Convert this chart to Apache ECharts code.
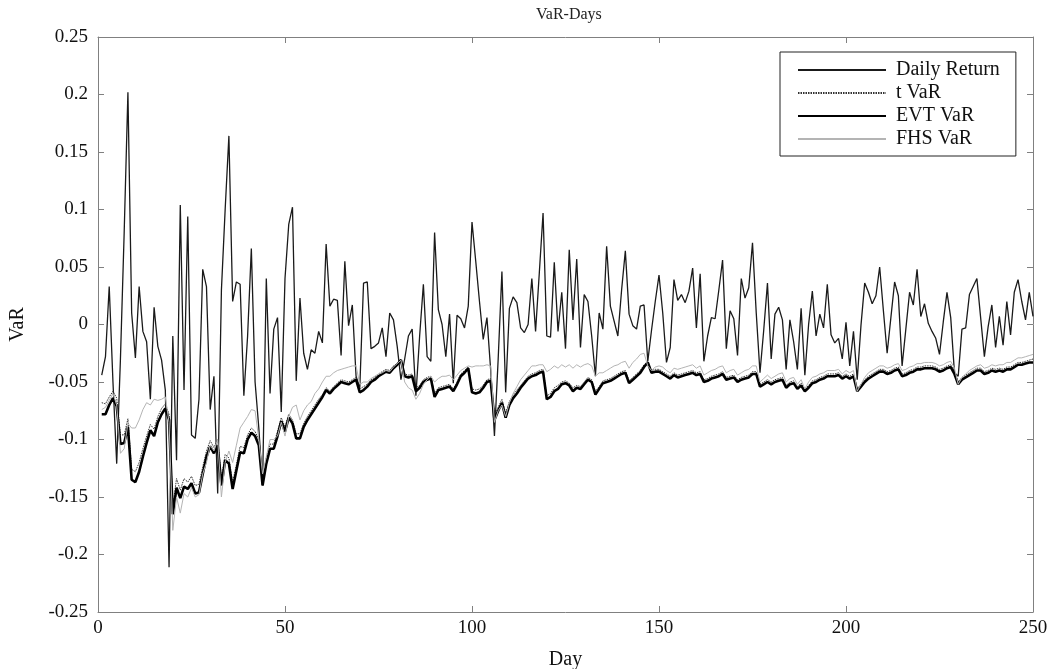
<!DOCTYPE html>
<html>
<head>
<meta charset="utf-8">
<script src="https://cdn.jsdelivr.net/npm/echarts@6/dist/echarts.min.js"></script>
<style>
    html, body { margin: 0; padding: 0; background: #fff; }
    #chart { width: 1051px; height: 669px; }
</style>
</head>
<body>
<div id="chart"></div>
<script>
// Daily return, day 1..250
const dailyReturn = [
    -0.044, -0.028, 0.033, -0.05, -0.121, -0.03, 0.08, 0.202, 0.01, -0.029,
    0.033, -0.006, -0.015, -0.065, 0.015, -0.019, -0.031, -0.057, -0.211, -0.01,
    -0.118, 0.104, -0.057, 0.094, -0.096, -0.099, -0.065, 0.048, 0.033, -0.074,
    -0.045, -0.147, 0.03, 0.1, 0.164, 0.02, 0.037, 0.035, -0.062, -0.01,
    0.066, -0.05, -0.09, -0.14, 0.04, -0.06, -0.004, 0.006, -0.076, 0.04,
    0.087, 0.102, -0.049, 0.023, -0.025, -0.039, -0.022, -0.025, -0.006, -0.016,
    0.07, 0.016, 0.022, 0.021, -0.027, 0.055, -0.001, 0.017, -0.045, -0.055,
    0.036, 0.037, -0.021, -0.019, -0.016, -0.003, -0.028, 0.01, 0.004, -0.019,
    -0.048, -0.03, -0.01, -0.004, -0.062, -0.01, 0.035, -0.028, -0.032, 0.08,
    0.013, 0.0, -0.028, 0.009, -0.051, 0.008, 0.005, -0.003, 0.016, 0.089,
    0.055, 0.02, -0.013, 0.006, -0.04, -0.097, -0.03, 0.046, -0.059, 0.014,
    0.024, 0.019, -0.003, -0.007, 0.0, 0.04, -0.006, 0.045, 0.097, -0.01,
    -0.011, 0.054, -0.006, 0.028, -0.021, 0.065, 0.004, 0.057, -0.02, 0.026,
    0.02, -0.01, -0.045, 0.01, -0.004, 0.068, 0.016, 0.003, -0.01, 0.03,
    0.064, 0.009, -0.001, -0.004, 0.016, 0.017, -0.032, -0.005, 0.02, 0.043,
    0.01, -0.033, -0.02, 0.039, 0.021, 0.026, 0.019, 0.029, 0.049, -0.003,
    0.044, -0.032, -0.01, 0.006, 0.005, 0.03, 0.056, -0.021, 0.012, 0.005,
    -0.027, 0.04, 0.023, 0.032, 0.071, 0.01, -0.042, -0.005, 0.036, -0.03,
    0.009, 0.015, 0.004, -0.039, 0.004, -0.015, -0.039, 0.014, -0.044, 0.0,
    0.029, -0.01, 0.009, -0.003, 0.035, -0.009, -0.016, -0.012, -0.03, 0.002,
    -0.036, -0.006, -0.048, -0.001, 0.036, 0.028, 0.018, 0.025, 0.05, 0.012,
    -0.025, 0.006, 0.037, 0.025, -0.036, -0.004, 0.028, 0.017, 0.048, 0.007,
    0.018, 0.001, -0.006, -0.012, -0.026, 0.002, 0.028, 0.006, -0.042, -0.045,
    -0.004, -0.003, 0.026, 0.033, 0.04, 0.006, -0.028, -0.002, 0.017, -0.02,
    0.007, -0.018, 0.02, -0.009, 0.028, 0.039, 0.02, 0.004, 0.028, 0.007
];

const tVaR = [
    -0.068, -0.069, -0.063, -0.058, -0.064, -0.096, -0.096, -0.082, -0.126, -0.128,
    -0.12, -0.108, -0.097, -0.087, -0.091, -0.08, -0.073, -0.069, -0.078, -0.158,
    -0.134, -0.144, -0.134, -0.137, -0.132, -0.14, -0.139, -0.124, -0.11, -0.101,
    -0.107, -0.1, -0.134, -0.113, -0.116, -0.137, -0.122, -0.106, -0.107, -0.096,
    -0.09, -0.093, -0.1, -0.135, -0.116, -0.104, -0.104, -0.093, -0.081, -0.089,
    -0.078, -0.083, -0.095, -0.095, -0.086, -0.08, -0.075, -0.07, -0.065, -0.061,
    -0.055, -0.058, -0.054, -0.051, -0.048, -0.049, -0.05, -0.048, -0.046, -0.056,
    -0.054, -0.052, -0.048, -0.046, -0.043, -0.041, -0.039, -0.04, -0.036, -0.034,
    -0.03, -0.043, -0.044, -0.043, -0.055, -0.053, -0.048, -0.046, -0.045, -0.06,
    -0.055, -0.054, -0.053, -0.052, -0.056, -0.05, -0.043, -0.04, -0.037, -0.056,
    -0.057, -0.056, -0.053, -0.048, -0.047, -0.079, -0.072, -0.065, -0.077, -0.067,
    -0.061, -0.057, -0.053, -0.049, -0.045, -0.043, -0.042, -0.04, -0.039, -0.062,
    -0.06, -0.055, -0.053, -0.05, -0.049, -0.051, -0.055, -0.053, -0.054, -0.05,
    -0.046, -0.048, -0.058, -0.054, -0.049, -0.048, -0.047, -0.045, -0.043, -0.041,
    -0.04, -0.049, -0.046, -0.043, -0.04, -0.035, -0.032, -0.04, -0.039, -0.039,
    -0.041, -0.043, -0.045, -0.042, -0.044, -0.043, -0.042, -0.041, -0.04, -0.042,
    -0.041, -0.048, -0.047, -0.045, -0.044, -0.043, -0.041, -0.046, -0.045, -0.044,
    -0.048, -0.046, -0.045, -0.044, -0.041, -0.041, -0.052, -0.05, -0.048, -0.05,
    -0.048, -0.047, -0.046, -0.053, -0.05, -0.049, -0.054, -0.051, -0.056, -0.053,
    -0.049, -0.048, -0.046, -0.045, -0.043, -0.043, -0.043, -0.042, -0.045, -0.043,
    -0.045, -0.043, -0.056, -0.052, -0.048, -0.045, -0.043, -0.041, -0.039, -0.039,
    -0.041, -0.04, -0.038, -0.037, -0.043, -0.042, -0.04, -0.039, -0.037, -0.037,
    -0.036, -0.036, -0.036, -0.037, -0.039, -0.038, -0.036, -0.035, -0.041, -0.05,
    -0.046, -0.044, -0.042, -0.04, -0.038, -0.038, -0.041, -0.04, -0.038, -0.039,
    -0.038, -0.039, -0.037, -0.037, -0.035, -0.033, -0.033, -0.032, -0.031, -0.03
];

const evtVaR = [
    -0.078, -0.078, -0.07, -0.064, -0.071, -0.104, -0.103, -0.089, -0.135, -0.137,
    -0.128, -0.115, -0.103, -0.092, -0.097, -0.085, -0.078, -0.073, -0.083, -0.165,
    -0.142, -0.151, -0.141, -0.143, -0.138, -0.147, -0.146, -0.13, -0.115, -0.106,
    -0.112, -0.105, -0.14, -0.118, -0.121, -0.143, -0.127, -0.111, -0.112, -0.1,
    -0.094, -0.097, -0.105, -0.14, -0.121, -0.108, -0.108, -0.097, -0.084, -0.093,
    -0.081, -0.086, -0.099, -0.099, -0.089, -0.083, -0.078, -0.073, -0.068, -0.063,
    -0.057, -0.06, -0.056, -0.053, -0.05, -0.051, -0.052, -0.05, -0.048, -0.059,
    -0.057, -0.054, -0.05, -0.048, -0.045, -0.043, -0.041, -0.042, -0.038, -0.035,
    -0.031, -0.045, -0.046, -0.045, -0.058, -0.055, -0.05, -0.048, -0.047, -0.063,
    -0.057, -0.056, -0.055, -0.054, -0.058, -0.052, -0.045, -0.042, -0.038, -0.059,
    -0.06, -0.059, -0.055, -0.05, -0.049, -0.083, -0.075, -0.068, -0.081, -0.07,
    -0.064, -0.06, -0.055, -0.051, -0.047, -0.045, -0.044, -0.042, -0.041, -0.065,
    -0.063, -0.058, -0.056, -0.052, -0.051, -0.053, -0.058, -0.055, -0.056, -0.052,
    -0.048, -0.05, -0.061, -0.056, -0.051, -0.05, -0.049, -0.047, -0.045, -0.043,
    -0.042, -0.051, -0.048, -0.045, -0.042, -0.037, -0.033, -0.042, -0.041, -0.041,
    -0.043, -0.045, -0.047, -0.044, -0.046, -0.045, -0.044, -0.043, -0.042, -0.044,
    -0.043, -0.05, -0.049, -0.047, -0.046, -0.045, -0.043, -0.048, -0.047, -0.046,
    -0.05, -0.048, -0.047, -0.046, -0.043, -0.043, -0.054, -0.052, -0.05, -0.052,
    -0.05, -0.049, -0.048, -0.055, -0.052, -0.051, -0.056, -0.053, -0.058, -0.055,
    -0.051, -0.05, -0.048, -0.047, -0.045, -0.045, -0.045, -0.044, -0.047, -0.045,
    -0.047, -0.045, -0.058, -0.054, -0.05, -0.047, -0.045, -0.043, -0.041, -0.041,
    -0.043, -0.042, -0.04, -0.039, -0.045, -0.044, -0.042, -0.041, -0.039, -0.039,
    -0.038, -0.038, -0.038, -0.039, -0.041, -0.04, -0.038, -0.037, -0.043, -0.052,
    -0.048, -0.046, -0.044, -0.042, -0.04, -0.04, -0.043, -0.042, -0.04, -0.041,
    -0.04, -0.041, -0.039, -0.039, -0.037, -0.035, -0.035, -0.034, -0.033, -0.033
];

const fhsVaR = [
    -0.074, -0.072, -0.066, -0.06, -0.07, -0.112, -0.108, -0.086, -0.09, -0.09,
    -0.083, -0.074, -0.068, -0.07, -0.065, -0.066, -0.065, -0.063, -0.085, -0.179,
    -0.15, -0.164, -0.147, -0.15, -0.142, -0.15, -0.148, -0.13, -0.12, -0.105,
    -0.11, -0.1, -0.15, -0.12, -0.11, -0.12, -0.105, -0.09, -0.085, -0.08,
    -0.074, -0.075, -0.1, -0.13, -0.115, -0.1, -0.1, -0.097, -0.085, -0.097,
    -0.08, -0.072, -0.07, -0.083, -0.075, -0.07, -0.067, -0.06, -0.056, -0.05,
    -0.045, -0.045, -0.042, -0.04, -0.039, -0.038, -0.037, -0.036, -0.036, -0.052,
    -0.05, -0.05, -0.047, -0.045, -0.043, -0.042, -0.04, -0.041, -0.037, -0.034,
    -0.031, -0.05, -0.055, -0.057, -0.065, -0.06, -0.052, -0.048, -0.045, -0.05,
    -0.047, -0.045, -0.045, -0.044, -0.048, -0.044, -0.04, -0.038, -0.036, -0.037,
    -0.036, -0.036, -0.036, -0.035, -0.036, -0.085, -0.075, -0.07, -0.08, -0.068,
    -0.06, -0.054, -0.048, -0.044, -0.04, -0.036, -0.036, -0.035, -0.035, -0.041,
    -0.039, -0.036, -0.038, -0.035, -0.037, -0.035, -0.038, -0.035, -0.037, -0.035,
    -0.034, -0.036, -0.045, -0.042, -0.042, -0.04, -0.038, -0.036, -0.035, -0.033,
    -0.032, -0.038, -0.033, -0.03, -0.026, -0.025, -0.036, -0.04, -0.037, -0.036,
    -0.037, -0.04, -0.042, -0.038, -0.039, -0.038, -0.037, -0.036, -0.035, -0.038,
    -0.036, -0.044, -0.042, -0.04, -0.039, -0.037, -0.036, -0.042, -0.04, -0.039,
    -0.044, -0.042, -0.04, -0.039, -0.036, -0.036, -0.05, -0.047, -0.044, -0.047,
    -0.045, -0.043, -0.042, -0.05, -0.047, -0.046, -0.052, -0.048, -0.056, -0.05,
    -0.046, -0.045, -0.043, -0.042, -0.04, -0.04, -0.04, -0.039, -0.043, -0.04,
    -0.042, -0.04, -0.058, -0.052, -0.046, -0.042, -0.04, -0.038, -0.036, -0.036,
    -0.038, -0.037, -0.035, -0.034, -0.04, -0.039, -0.037, -0.036, -0.034, -0.034,
    -0.033, -0.033, -0.033, -0.034, -0.036, -0.035, -0.033, -0.032, -0.038, -0.052,
    -0.046, -0.043, -0.04, -0.038, -0.036, -0.035, -0.038, -0.037, -0.035, -0.036,
    -0.035, -0.035, -0.033, -0.033, -0.031, -0.029, -0.029, -0.028, -0.027, -0.026
];

const seriesNames = ['Daily Return', 't VaR', 'EVT VaR', 'FHS VaR'];

const FONT = 'Liberation Serif';

function toPoints(arr) {
    return arr.map((v, i) => [i + 1, v]);
}

const chart = echarts.init(document.getElementById('chart'));

const axisLine = {show: true, onZero: false, lineStyle: {color: '#808080', width: 1}};
const tickIn = {show: true, inside: true, length: 6, lineStyle: {color: '#808080'}};
const noSymbol = {color: 'rgba(0,0,0,0)', opacity: 0};

const option = {
    animation: false,
    backgroundColor: '#fff',
    title: {
        text: 'VaR-Days',
        left: 531,
        top: 2,
        textStyle: {fontFamily: FONT, fontSize: 16, fontWeight: 'normal', color: '#222'},
    },
    legend: {
        data: seriesNames,
        orient: 'vertical',
        left: 780,
        top: 52,
        padding: [8, 16, 7, 17],
        itemGap: 3,
        itemWidth: 88,
        itemHeight: 19,
        backgroundColor: '#fff',
        borderColor: '#222',
        borderWidth: 1,
        itemStyle: {opacity: 0},
        textStyle: {fontFamily: FONT, fontSize: 20, color: '#111', padding: [0, 0, 0, 5]},
    },
    grid: {left: 98, right: 18, top: 37, bottom: 57, outerBoundsMode: 'none'},
    xAxis: [
        {
            type: 'value',
            min: 0,
            max: 250,
            interval: 50,
            name: 'Day',
            nameLocation: 'middle',
            nameGap: 38,
            nameTextStyle: {fontFamily: FONT, fontSize: 20, color: '#111'},
            axisLine: axisLine,
            axisTick: tickIn,
            axisLabel: {fontFamily: FONT, fontSize: 19, color: '#111', margin: 7},
            splitLine: {show: false},
        },
        {
            type: 'value',
            position: 'top',
            min: 0,
            max: 250,
            interval: 50,
            axisLine: axisLine,
            axisTick: tickIn,
            axisLabel: {show: false},
            splitLine: {show: false},
        },
    ],
    yAxis: [
        {
            type: 'value',
            min: -0.25,
            max: 0.25,
            interval: 0.05,
            name: 'VaR',
            nameLocation: 'middle',
            nameGap: 70,
            nameRotate: 90,
            nameTextStyle: {fontFamily: FONT, fontSize: 20, color: '#111'},
            axisLine: axisLine,
            axisTick: tickIn,
            axisLabel: {fontFamily: FONT, fontSize: 19, color: '#111', margin: 10},
            splitLine: {show: false},
        },
        {
            type: 'value',
            position: 'right',
            min: -0.25,
            max: 0.25,
            interval: 0.05,
            axisLine: axisLine,
            axisTick: tickIn,
            axisLabel: {show: false},
            splitLine: {show: false},
        },
    ],
    series: [
        {
            name: seriesNames[0],
            type: 'line',
            data: toPoints(dailyReturn),
            showSymbol: false,
            symbol: 'none',
            lineStyle: {color: '#1a1a1a', width: 1.3},
            itemStyle: noSymbol,
        },
        {
            name: seriesNames[1],
            type: 'line',
            data: toPoints(tVaR),
            showSymbol: false,
            symbol: 'none',
            lineStyle: {color: '#333', width: 1, type: [1.5, 1]},
            itemStyle: noSymbol,
        },
        {
            name: seriesNames[2],
            type: 'line',
            data: toPoints(evtVaR),
            showSymbol: false,
            symbol: 'none',
            lineStyle: {color: '#000', width: 2.6},
            itemStyle: noSymbol,
        },
        {
            name: seriesNames[3],
            type: 'line',
            data: toPoints(fhsVaR),
            showSymbol: false,
            symbol: 'none',
            lineStyle: {color: '#b4b4b4', width: 1},
            itemStyle: noSymbol,
        },
    ],
};

chart.setOption(option);
</script>
</body>
</html>
